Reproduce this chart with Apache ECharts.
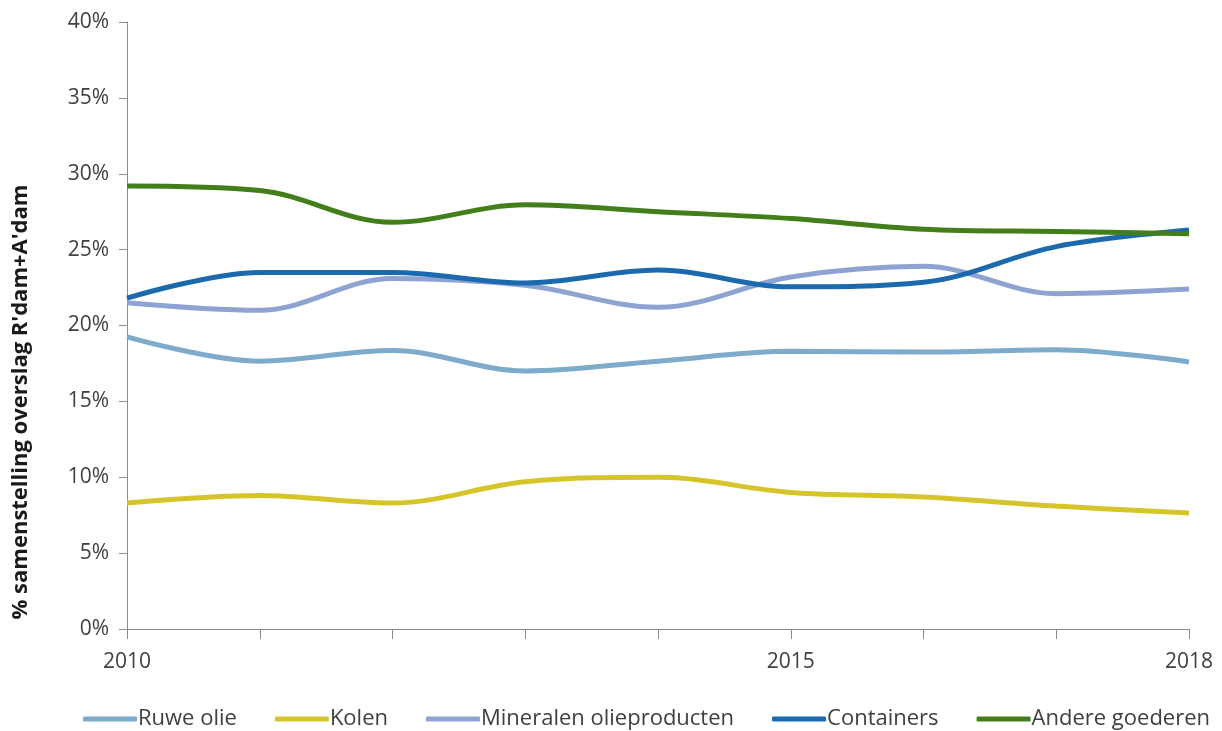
<!DOCTYPE html>
<html><head><meta charset="utf-8">
<script src="https://cdn.jsdelivr.net/npm/echarts@6/dist/echarts.min.js"></script>
<style>html,body{margin:0;padding:0;background:#fff}#c{width:1222px;height:731px}</style>
</head><body><div id="c"></div>
<script>
const years = ['2010','2011','2012','2013','2014','2015','2016','2017','2018'];
const shownYears = ['2010','2015','2018'];
const yTicks = [0,5,10,15,20,25,30,35,40];
const ruweOlie = [19.25,17.65,18.35,17.0,17.65,18.3,18.25,18.4,17.6];
const kolen = [8.3,8.8,8.3,9.7,10.0,9.0,8.7,8.1,7.65];
const mineralen = [21.5,21.0,23.1,22.65,21.2,23.2,23.9,22.1,22.4];
const containers = [21.8,23.5,23.5,22.8,23.65,22.55,22.85,25.2,26.3];
const andere = [29.2,28.9,26.8,27.95,27.5,27.05,26.35,26.2,26.05];
const seriesNames = ['Ruwe olie','Kolen','Mineralen olieproducten','Containers','Andere goederen'];
const colors = ['#7eaacb','#d6c52a','#8fa3d3','#1b6aad','#427e19'];
const datas = [ruweOlie,kolen,mineralen,containers,andere];
const font = 'Open Sans';
const chart = echarts.init(document.getElementById('c'));
chart.setOption({
  animation:false,
  color:colors,
  grid:{left:127,right:33,top:22,bottom:102},
  legend:{
    top:703,left:78,
    icon:'roundRect',itemWidth:54,itemHeight:5,itemGap:38,
    textStyle:{fontFamily:font,fontSize:22,color:'#404040',padding:[0,0,0,-4]},
    data:seriesNames
  },
  xAxis:{
    type:'category',data:years,boundaryGap:false,
    axisLine:{lineStyle:{color:'#8c8c8c',width:1}},
    axisTick:{show:true,length:10,interval:0,lineStyle:{color:'#8c8c8c'}},
    axisLabel:{
      interval:(i,v)=>shownYears.includes(v),
      fontFamily:font,fontSize:21,color:'#404040',margin:23
    }
  },
  yAxis:{
    type:'value',min:yTicks[0],max:yTicks[yTicks.length-1],interval:5,
    axisLine:{show:true,lineStyle:{color:'#8c8c8c'}},
    axisTick:{show:true,length:8,lineStyle:{color:'#8c8c8c'}},
    splitLine:{show:false},
    axisLabel:{formatter:'{value}%',fontFamily:font,fontSize:21,color:'#404040',margin:18}
  },
  graphic:[{
    type:'text',x:21,y:402,rotation:Math.PI/2,
    style:{text:"% samenstelling overslag R'dam+A'dam",font:'bold 22px "Open Sans"',fill:'#1a1a1a',textAlign:'center',textVerticalAlign:'middle'}
  }],
  series:datas.map((d,i)=>({
    name:seriesNames[i],type:'line',data:d,smooth:0.35,showSymbol:false,
    lineStyle:{width:5,color:colors[i]},itemStyle:{color:colors[i]}
  }))
});
</script></body></html>
